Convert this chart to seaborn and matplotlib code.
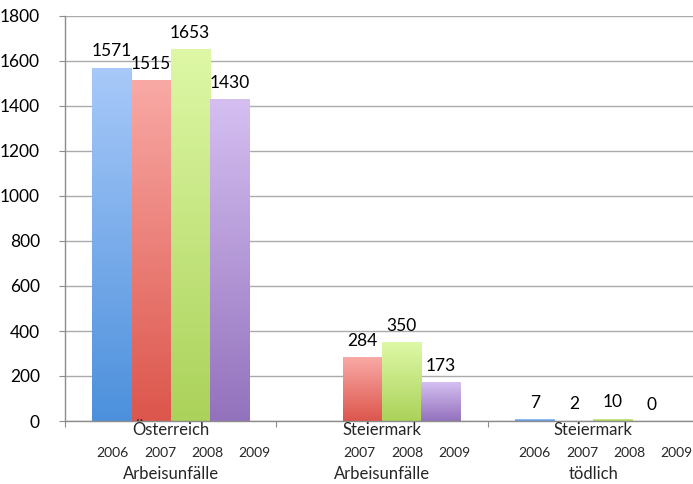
import numpy as np
import pandas as pd
import matplotlib
matplotlib.use('Agg')
import matplotlib.pyplot as plt
from matplotlib.colors import to_rgb
import seaborn as sns

# data
years = ['2006', '2007', '2008', '2009']
regions = ['Österreich', 'Steiermark', 'Steiermark']
kinds = ['Arbeisunfälle', 'Arbeisunfälle', 'tödlich']
oesterreich_arbeit = [1571, 1515, 1653, 1430]
steiermark_arbeit = [None, 284, 350, 173]
steiermark_toedlich = [7, 2, 10, 0]

# gradient fill, light at top, dark at bottom (one pair per year)
top_colors = ['#a8c9f9', '#f9a9a5', '#def8a6', '#d5bff1']
bottom_colors = ['#4c90dc', '#dc564c', '#abd25a', '#9372bd']

sns.set_style('white')
plt.rcParams['font.family'] = ['Lato', 'DejaVu Sans']

groups = [r + '\n' + k for r, k in zip(regions, kinds)]
rows = []
for g, vals in zip(groups, [oesterreich_arbeit, steiermark_arbeit, steiermark_toedlich]):
    for y, v in zip(years, vals):
        if v is not None:
            rows.append({'group': g, 'year': y, 'value': v})
df = pd.DataFrame(rows)

fig = plt.figure(figsize=(6.93, 4.84), dpi=100)
ax = fig.add_axes([65 / 693, 63 / 484, 634 / 693, 405 / 484])

sns.barplot(data=df, x='group', y='value', hue='year', order=groups, hue_order=years,
            palette=bottom_colors, width=0.74, gap=0, legend=False, ax=ax,
            linewidth=0, zorder=2)

grad = np.linspace(0, 1, 256)[:, None, None]
for i, cont in enumerate(ax.containers):
    c0 = np.array(to_rgb(top_colors[i]))
    c1 = np.array(to_rgb(bottom_colors[i]))
    img = c0 * (1 - grad) + c1 * grad
    for p in cont.patches:
        h = p.get_height()
        if not h > 0:
            continue
        x0 = p.get_x()
        w = p.get_width()
        im = ax.imshow(img, extent=(x0, x0 + w, 0, h), aspect='auto',
                       interpolation='bilinear', zorder=2)
        im.set_clip_path(p)
        p.set_facecolor('none')
    ax.bar_label(cont, fmt='{:.0f}', padding=6, fontsize=12.5, color='black')

ax.set_xlim(-0.5, 2.5)
ax.set_ylim(0, 1800)
ax.set_yticks(range(0, 1801, 200))
ax.set_xticks([-0.5, 0.5, 1.5, 2.5])
ax.set_xticklabels([])
ax.set_xlabel('')
ax.set_ylabel('')
ax.yaxis.grid(True, color='#ababab', lw=1)
ax.set_axisbelow(True)
for s in ['top', 'right']:
    ax.spines[s].set_visible(False)
for s in ['left', 'bottom']:
    ax.spines[s].set_color('#8c8c8c')
    ax.spines[s].set_linewidth(1)
ax.tick_params(axis='y', left=True, length=4, color='#8c8c8c', pad=14, labelsize=12.5,
               labelcolor='black')
ax.tick_params(axis='x', bottom=True, length=4, color='#8c8c8c')

# three-row category labels
trans = ax.get_xaxis_transform()
year_start = [-0.274, -0.106, -0.277]
for gi, g in enumerate(groups):
    ax.text(gi, -0.022, regions[gi], transform=trans, ha='center', va='center', fontsize=12)
    ax.text(gi, -0.131, kinds[gi], transform=trans, ha='center', va='center', fontsize=12)
    shown = [y for y in df.loc[df['group'] == g, 'year']]
    for k, y in enumerate(shown):
        ax.text(gi + year_start[gi] + k * 0.224, -0.079, y, transform=trans,
                ha='center', va='center', fontsize=10)

fig.savefig('out.png', dpi=100)
